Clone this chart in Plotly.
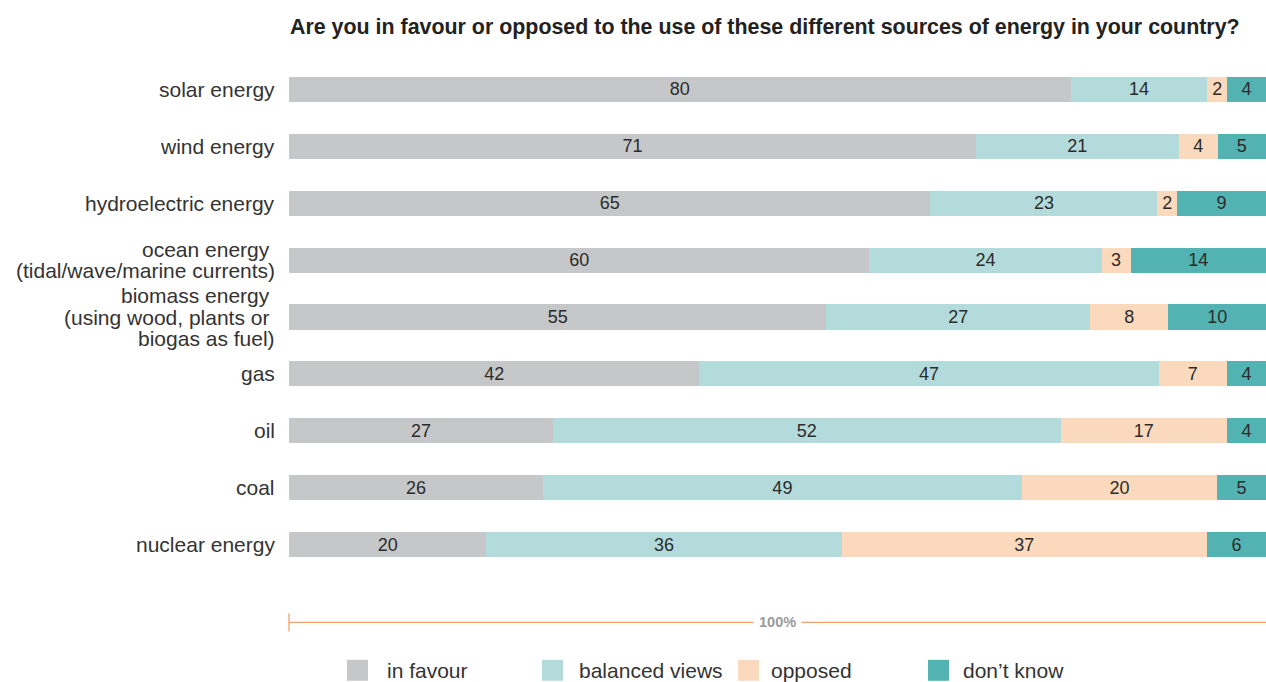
import plotly.graph_objects as go

categories = [
    "solar energy",
    "wind energy",
    "hydroelectric energy",
    "ocean energy\u00a0<br>(tidal/wave/marine currents)",
    "biomass energy\u00a0<br>(using wood, plants or\u00a0<br>biogas as fuel)",
    "gas",
    "oil",
    "coal",
    "nuclear energy",
]
in_favour = [80, 71, 65, 60, 55, 42, 27, 26, 20]
balanced_views = [14, 21, 23, 24, 27, 47, 52, 49, 36]
opposed = [2, 4, 2, 3, 8, 7, 17, 20, 37]
dont_know = [4, 5, 9, 14, 10, 4, 4, 5, 6]

series = [
    ("in favour", in_favour, "#c6c7c9"),
    ("balanced views", balanced_views, "#b3dbdb"),
    ("opposed", opposed, "#fbd9bd"),
    ("don\u2019t know", dont_know, "#52b3b2"),
]

FONT = "Liberation Sans"
W, H = 1266, 682
M_L, M_R, M_T, M_B = 289, 0, 60.5, 108.5
plot_h = H - M_T - M_B
plot_w = W - M_L - M_R

fig = go.Figure()
for name, vals, color in series:
    fig.add_trace(go.Bar(
        y=categories, x=vals, name=name, orientation="h",
        marker=dict(color=color, line=dict(width=0)),
        text=vals, texttemplate="%{text}", textposition="inside",
        insidetextanchor="middle", textangle=0,
        textfont=dict(size=18, color="#2b2b2b", family=FONT),
        showlegend=False, width=0.44,
    ))

fig.update_layout(
    width=W, height=H,
    margin=dict(l=M_L, r=M_R, t=M_T, b=M_B, pad=0),
    barmode="stack", barnorm="percent",
    plot_bgcolor="white", paper_bgcolor="white",
    uniformtext=dict(minsize=18, mode="show"),
    font=dict(family=FONT, color="#333333"),
    title=dict(
        text="<b>Are you in favour or opposed to the use of these different sources of energy in your country?</b>",
        x=290 / W, xanchor="left", y=1 - 27 / H, yanchor="middle",
        font=dict(size=21.4, color="#222222", family=FONT),
    ),
    xaxis=dict(range=[0, 100], visible=False, fixedrange=True),
    yaxis=dict(
        autorange="reversed", showgrid=False, zeroline=False, showline=False,
        ticks="", showticklabels=False,
    ),
)

# category labels, one annotation per line for tight line spacing
LINE_GAP = 21.5
for cat in categories:
    lines = cat.split("<br>")
    n = len(lines)
    for i, ln in enumerate(lines):
        fig.add_annotation(
            xref="paper", yref="y", x=0, y=cat, xshift=-12,
            yshift=((n - 1) / 2 - i) * LINE_GAP,
            xanchor="right", yanchor="middle", text=ln, showarrow=False,
            font=dict(size=21, color="#333333", family=FONT),
        )


def py(px):
    return (H - M_B - px) / plot_h


def pxx(px):
    return (px - M_L) / plot_w


# 100% scale line below the bars
line_y = py(623)
fig.add_shape(type="line", xref="paper", yref="paper", x0=0, x1=1, y0=line_y, y1=line_y,
              line=dict(color="#f0a46a", width=1.3))
fig.add_shape(type="line", xref="paper", yref="paper", x0=0, x1=0, y0=py(614), y1=py(632),
              line=dict(color="#f0a46a", width=1.3))
fig.add_annotation(xref="paper", yref="paper", x=0.5, y=line_y, text="<b>100%</b>",
                   xanchor="center", yanchor="middle",
                   showarrow=False, bgcolor="white", borderpad=5,
                   font=dict(size=14.5, color="#9a9a9a", family=FONT))

# legend
legend_box_x = [347, 542, 738, 928]
legend_text_x = [385, 577, 769, 961]
leg_y = 671
for (name, _, color), bx, tx in zip(series, legend_box_x, legend_text_x):
    fig.add_shape(type="rect", xref="paper", yref="paper",
                  x0=pxx(bx), x1=pxx(bx + 21),
                  y0=py(leg_y + 10.5), y1=py(leg_y - 10.5),
                  line=dict(width=0), fillcolor=color)
    fig.add_annotation(xref="paper", yref="paper", x=pxx(tx), y=py(leg_y),
                       xanchor="left", yanchor="middle", text=name, showarrow=False,
                       font=dict(size=21, color="#333333", family=FONT))

fig.write_html("out.html")
